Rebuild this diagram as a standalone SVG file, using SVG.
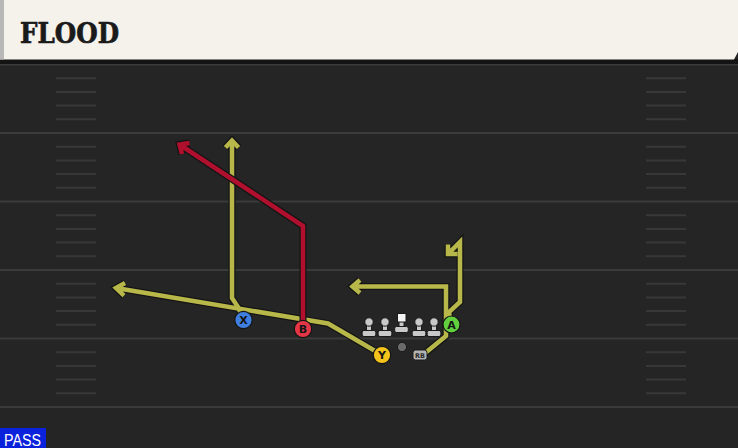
<svg xmlns="http://www.w3.org/2000/svg" xmlns:xlink="http://www.w3.org/1999/xlink" width="738" height="448" viewBox="0 0 738 448">
<style>
.yard{stroke:#3b3b3b;stroke-width:2;fill:none}
.hash{stroke:#383838;stroke-width:2;fill:none}
.out{fill:none;stroke:#141414;stroke-width:7;stroke-linejoin:miter;stroke-linecap:butt}
.ry{fill:none;stroke:#b8b74a;stroke-width:4.5;stroke-linejoin:miter;stroke-linecap:butt}
.rr{fill:none;stroke:#b0102e;stroke-width:4.5;stroke-linejoin:miter;stroke-linecap:butt}
.pc{stroke:#151515;stroke-width:1.2}
.pl{font-family:"DejaVu Sans","Liberation Sans",sans-serif;font-weight:bold;font-size:11px;fill:#151515;text-anchor:middle}
.ol{fill:#c9c9c9;stroke:#1a1a1a;stroke-width:1}
</style>
<defs>
<g id="lineman">
<rect class="ol" x="-2.5" y="-8" width="5" height="9"/>
<circle class="ol" cx="0" cy="-8.5" r="4.2"/>
<rect class="ol" x="-6.8" y="0" width="13.6" height="6" rx="1.8"/>
</g>
<path id="rY" d="M382 355L328 323.5L116 288M125 283L116 288L124 295.6"/>
<path id="rX" d="M243 318L238 307L232 298V140.5M225.5 147.5L232 140.5L238.5 147.5"/>
<path id="rA" d="M451 324L449 312L460 302V242L448 254M448 244.5V254H457.5"/>
<path id="rRB" d="M424 354L446 336V286.5H352.5M360 280L352.5 286.5L360 293"/>
<path id="rB" d="M303 329V226L179.5 144.5M189.5 143L179.5 144.5L182 154"/>
</defs>
<g id="field">
<rect x="0" y="0" width="738" height="448" fill="#252525"/>
<path class="yard" d="M0 64.5H738M0 133H738M0 201.5H738M0 270H738M0 338.5H738M0 407H738"/>
<path class="hash" d="M56 78.2H96M56 91.9H96M56 105.6H96M56 119.3H96M56 146.7H96M56 160.4H96M56 174.1H96M56 187.8H96M56 215.2H96M56 228.9H96M56 242.6H96M56 256.3H96M56 283.7H96M56 297.4H96M56 311.1H96M56 324.8H96M56 352.2H96M56 365.9H96M56 379.6H96M56 393.3H96"/>
<path class="hash" d="M646 78.2H686M646 91.9H686M646 105.6H686M646 119.3H686M646 146.7H686M646 160.4H686M646 174.1H686M646 187.8H686M646 215.2H686M646 228.9H686M646 242.6H686M646 256.3H686M646 283.7H686M646 297.4H686M646 311.1H686M646 324.8H686M646 352.2H686M646 365.9H686M646 379.6H686M646 393.3H686"/>
</g>
<g id="header">
<rect x="0" y="59" width="738" height="5" fill="#141414"/>
<path d="M0 0H738V52L734 59.5H0Z" fill="#f5f2eb"/>
<rect x="0" y="0" width="4" height="59.5" fill="#b8b8b6"/>
<text x="20" y="43" font-family="'DejaVu Serif Condensed','DejaVu Serif',serif" font-weight="bold" font-size="27" fill="#1a1a1a" stroke="#1a1a1a" stroke-width="0.6" textLength="99" lengthAdjust="spacingAndGlyphs">FLOOD</text>
</g>
<g id="connectors">
<use xlink:href="#rY" class="out"/>
<use xlink:href="#rX" class="out"/>
<use xlink:href="#rA" class="out"/>
<use xlink:href="#rRB" class="out"/>
<use xlink:href="#rY" class="ry"/>
<use xlink:href="#rX" class="ry"/>
<use xlink:href="#rA" class="ry"/>
<use xlink:href="#rRB" class="ry"/>
<use xlink:href="#rB" class="out"/>
<use xlink:href="#rB" class="rr"/>
</g>
<g id="line">
<use xlink:href="#lineman" x="369" y="330.5"/>
<use xlink:href="#lineman" x="385" y="330.5"/>
<use xlink:href="#lineman" x="419" y="330.5"/>
<use xlink:href="#lineman" x="434" y="330.5"/>
<g id="center">
<rect class="ol" x="399" y="320" width="5" height="7.5"/>
<rect class="ol" x="394.7" y="326.5" width="13.6" height="6" rx="1.8"/>
<rect x="397.5" y="313.5" width="8.5" height="8.5" fill="#f4f4f4" stroke="#1a1a1a" stroke-width="1"/>
</g>
<circle id="ball" cx="402" cy="347" r="4.6" fill="#6a6a6a" stroke="#1a1a1a" stroke-width="1"/>
</g>
<g id="X"><circle class="pc" cx="243.5" cy="320" r="8.7" fill="#3e7fe0"/><text class="pl" x="243.5" y="324">X</text></g>
<g id="B"><circle class="pc" cx="303" cy="329" r="8.7" fill="#e33646"/><text class="pl" x="303" y="333">B</text></g>
<g id="Y"><circle class="pc" cx="382" cy="355" r="8.7" fill="#f3c31c"/><text class="pl" x="382" y="359">Y</text></g>
<g id="A"><circle class="pc" cx="451.5" cy="324.5" r="8.5" fill="#62d03e"/><text class="pl" x="451.5" y="328.5">A</text></g>
<g id="RB"><rect x="413" y="350" width="14" height="10" rx="2.5" fill="#b3b3b3" stroke="#1a1a1a" stroke-width="1"/><text x="420" y="357.6" font-family="'DejaVu Sans','Liberation Sans',sans-serif" font-weight="bold" font-size="6.5" fill="#2a2a2a" text-anchor="middle">RB</text></g>
<g id="pass">
<rect x="0" y="428" width="46" height="20" fill="#0b22dc"/>
<text x="4" y="445.5" font-family="'Liberation Sans',Arial,sans-serif" font-size="16" fill="#ffffff" textLength="37" lengthAdjust="spacingAndGlyphs">PASS</text>
</g>
</svg>
